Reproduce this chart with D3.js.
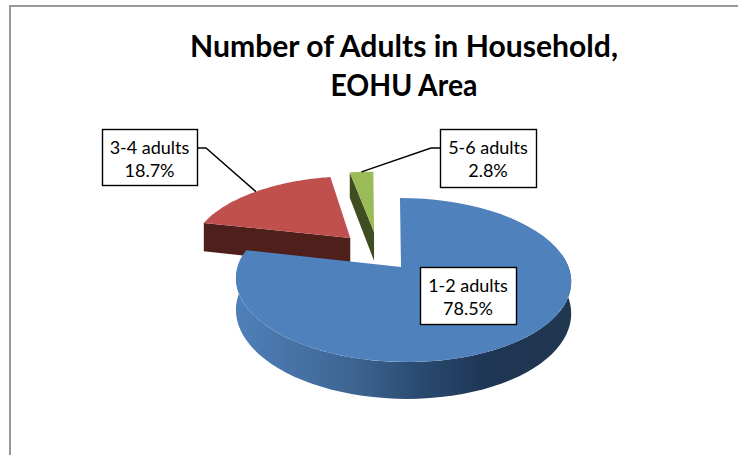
<!DOCTYPE html>
<html>
<head>
<meta charset="utf-8">
<script src="https://cdn.jsdelivr.net/npm/d3@7"></script>
<style>
  html, body { margin: 0; padding: 0; background: #fff; }
  svg { display: block; }
  text { font-family: Lato, "Open Sans", sans-serif; fill: #000; }
</style>
</head>
<body>
<svg id="chart" width="738" height="455"></svg>
<script>
// Household composition shares, in percent
const categories = ["1-2 adults", "3-4 adults", "5-6 adults"];
const shares = [78.5, 18.7, 2.8];
const titleLines = ["Number of Adults in Household,", "EOHU Area"];

const svg = d3.select("#chart");

// Perspective projection of the pie's ground plane onto the page
const view = { cx: 403, cy: 267, rx: 165.5, ry: 80, perspective: 0.1585, shear: -3.5, wall: 31 };
function project(X, Y, drop = 0) {
  const w = 1 + view.perspective * Y;
  return [
    view.cx + (view.rx * X + view.shear * Y) / w,
    view.cy - view.ry * Y / w + drop * view.wall / w
  ];
}

// Per-slice appearance, how far each slice is pulled out, and a small hub correction
const looks = [
  { top: "#4f81bd", wall: "url(#blueWall)", ex: 0, ey: 0, hubShift: -0.012 },
  { top: "#c0504d", wall: "#4f1f1c", ex: -0.33, ey: 0.385, hubShift: 0 },
  { top: "#9bbb59", wall: "#3f4d21", ex: -0.19, ey: 0.47, hubShift: 0.012 }
];

const arcs = d3.pie().sort(null).startAngle(0).endAngle(2 * Math.PI)(shares);
const slices = arcs.map((a, i) => ({ ...a, ...looks[i], name: categories[i], value: shares[i] }));

const rim = (s, t, drop = 0) => project(s.ex + Math.sin(t), s.ey + Math.cos(t), drop);
const hub = (s, drop = 0) => project(s.ex + s.hubShift, s.ey, drop);
const line = d3.line();
const sweep = (from, to, f) => d3.range(0, 61).map(k => f(from + (to - from) * k / 60));

// Wall gradient across the front of the large slice
const defs = svg.append("defs");
const grad = defs.append("linearGradient").attr("id", "blueWall")
  .attr("gradientUnits", "userSpaceOnUse")
  .attr("x1", 236).attr("x2", 571).attr("y1", 0).attr("y2", 0);
[[0, "#4f80b9"], [0.35, "#3d6592"], [0.55, "#2a4a70"], [0.75, "#1f3654"], [1, "#203750"]]
  .forEach(([o, c]) => grad.append("stop").attr("offset", o).attr("stop-color", c));

// Chart frame: only the top and left edges fall inside the page
svg.append("path").attr("d", "M10,455V6H738")
  .attr("fill", "none").attr("stroke", "#999").attr("stroke-width", 2);

// Title, each line fitted to its own measure
const titleWidths = [428, 147];
svg.append("g").selectAll("text").data(titleLines).join("text")
  .attr("x", 404).attr("y", (d, i) => 57 + i * 39)
  .attr("text-anchor", "middle")
  .attr("font-size", 31).attr("font-weight", 700)
  .attr("textLength", (d, i) => titleWidths[i])
  .attr("lengthAdjust", "spacingAndGlyphs")
  .text(d => d);

// Cut face of an exploded slice, seen along its leading radius
function cutFace(s) {
  const a = rim(s, s.startAngle), b = hub(s), c = hub(s, 1), d = rim(s, s.startAngle, 1);
  return line([a, b, c, d]) + "Z";
}
function topFace(s) {
  return line([hub(s), ...sweep(s.startAngle, s.endAngle, t => rim(s, t))]) + "Z";
}

const pieLayer = svg.append("g");
// Back slices first so the large slice overlaps them
[slices[1], slices[2]].forEach(s => {
  pieLayer.append("path").attr("d", cutFace(s)).attr("fill", s.wall);
  pieLayer.append("path").attr("d", topFace(s)).attr("fill", s.top);
});

// Outer wall of the large slice, from its left extreme round the front to the right
const big = slices[0];
const wallFrom = Math.PI * 1.5 + 0.16, wallTo = Math.PI / 2 - 0.16;
const wallTop = sweep(wallFrom, wallTo, t => rim(big, t));
const wallBottom = sweep(wallTo, wallFrom, t => rim(big, t, 1));
pieLayer.append("path").attr("d", line([...wallTop, ...wallBottom]) + "Z").attr("fill", big.wall);
pieLayer.append("path").attr("d", topFace(big)).attr("fill", big.top);

// Labels with their leader lines
const labelBoxes = [
  { x: 420, y: 267, w: 96, h: 57 },
  { x: 102, y: 129, w: 95, h: 56, side: "right" },
  { x: 440, y: 129, w: 96, h: 58, side: "left" }
];
slices.forEach((s, i) => {
  const b = labelBoxes[i];
  if (b.side) {
    const anchorX = b.side === "right" ? b.x + b.w : b.x;
    const elbowX = anchorX + (b.side === "right" ? 9 : -9);
    const target = rim(s, (s.startAngle + s.endAngle) / 2);
    svg.append("path").attr("fill", "none").attr("stroke", "#000").attr("stroke-width", 1.4)
      .attr("d", line([[anchorX, b.y + 19], [elbowX, b.y + 19], target]));
  }
  svg.append("rect").attr("x", b.x + 0.5).attr("y", b.y + 0.5).attr("width", b.w).attr("height", b.h)
    .attr("fill", "#fff").attr("stroke", "#000").attr("stroke-width", 1.4);
  const t = svg.append("text").attr("text-anchor", "middle").attr("font-size", 18);
  t.append("tspan").attr("x", b.x + b.w / 2).attr("y", b.y + 24.5).text(s.name);
  t.append("tspan").attr("x", b.x + b.w / 2).attr("y", b.y + 48).text(d3.format(".1f")(s.value) + "%");
});
</script>
</body>
</html>
